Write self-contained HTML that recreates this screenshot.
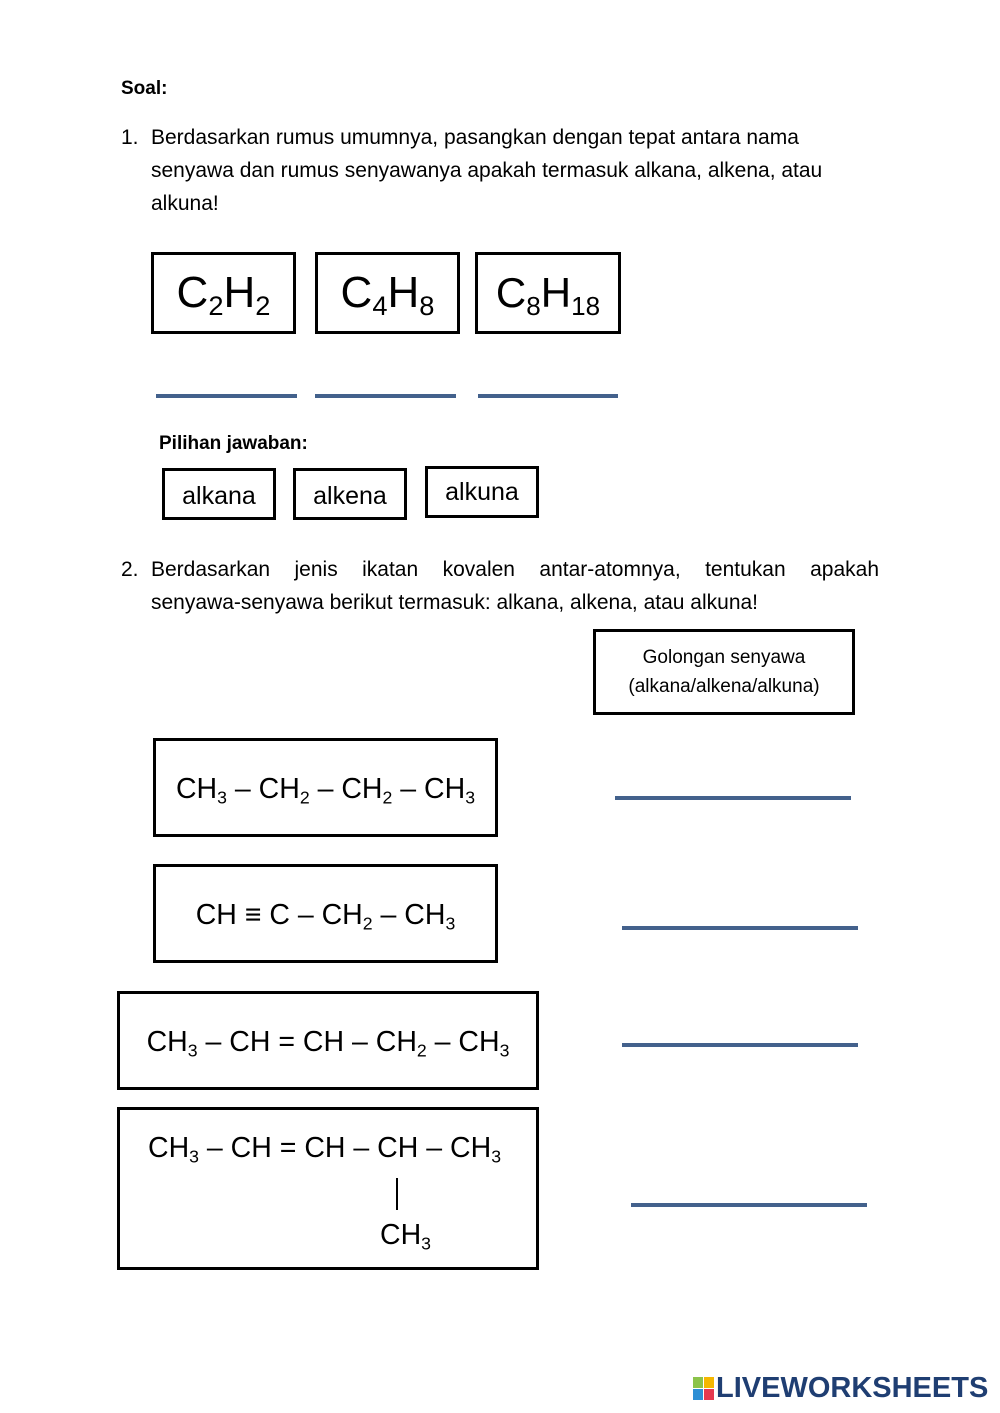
<!DOCTYPE html>
<html><head><meta charset="utf-8"><style>
body{margin:0;background:#fff;}
#p{position:relative;width:1000px;height:1413px;overflow:hidden;font-family:"Liberation Sans",sans-serif;color:#000;}
.a{position:absolute;white-space:nowrap;}
.t{font-size:21px;line-height:33px;}
.box{position:absolute;border:3px solid #000;box-sizing:border-box;display:flex;align-items:center;justify-content:center;white-space:nowrap;}
.ln{position:absolute;height:4px;background:#43618c;}
sub{font-size:62%;vertical-align:-0.3em;line-height:0;}
.f{font-size:28.5px;}
</style></head><body><div id="p">
<div class="a t" style="left:121px;top:72px;font-weight:bold;font-size:19px">Soal:</div>
<div class="a t" style="left:121px;top:121px">1.</div>
<div class="a t" style="left:151px;top:121px">Berdasarkan rumus umumnya, pasangkan dengan tepat antara nama<br>senyawa dan rumus senyawanya apakah termasuk alkana, alkena, atau<br>alkuna!</div>

<div class="box" style="left:151px;top:252px;width:145px;height:82px;font-size:44px"><span>C<sub>2</sub>H<sub>2</sub></span></div>
<div class="box" style="left:315px;top:252px;width:145px;height:82px;font-size:44px"><span>C<sub>4</sub>H<sub>8</sub></span></div>
<div class="box" style="left:475px;top:252px;width:146px;height:82px;font-size:42px"><span>C<sub>8</sub>H<sub>18</sub></span></div>
<div class="ln" style="left:156px;top:394px;width:141px"></div>
<div class="ln" style="left:315px;top:394px;width:141px"></div>
<div class="ln" style="left:478px;top:394px;width:140px"></div>

<div class="a" style="left:159px;top:433px;font-size:19px;font-weight:bold">Pilihan jawaban:</div>
<div class="box" style="left:162px;top:468px;width:114px;height:52px;font-size:25px;padding-top:4px">alkana</div>
<div class="box" style="left:293px;top:468px;width:114px;height:52px;font-size:25px;padding-top:4px">alkena</div>
<div class="box" style="left:425px;top:466px;width:114px;height:52px;font-size:25px">alkuna</div>

<div class="a t" style="left:121px;top:553px">2.</div>
<div class="a t" style="left:151px;top:553px;width:728px;white-space:normal;text-align:justify;text-align-last:justify">Berdasarkan jenis ikatan kovalen antar-atomnya, tentukan apakah</div>
<div class="a t" style="left:151px;top:586px">senyawa-senyawa berikut termasuk: alkana, alkena, atau alkuna!</div>

<div class="box" style="left:593px;top:629px;width:262px;height:86px;font-size:19px;line-height:29px;text-align:center">Golongan senyawa<br>(alkana/alkena/alkuna)</div>

<div class="box f" style="left:153px;top:738px;width:345px;height:99px;padding-top:3px"><span>CH<sub>3</sub> – CH<sub>2</sub> – CH<sub>2</sub> – CH<sub>3</sub></span></div>
<div class="box f" style="left:153px;top:864px;width:345px;height:99px;padding-top:3px"><span>CH ≡ C – CH<sub>2</sub> – CH<sub>3</sub></span></div>
<div class="box f" style="left:117px;top:991px;width:422px;height:99px;padding-top:3px"><span>CH<sub>3</sub> – CH = CH – CH<sub>2</sub> – CH<sub>3</sub></span></div>
<div class="box" style="left:117px;top:1107px;width:422px;height:163px"></div>
<div class="a f" style="left:148px;top:1132px">CH<sub>3</sub> – CH = CH – CH – CH<sub>3</sub></div>
<div class="a" style="left:396px;top:1178px;width:2px;height:32px;background:#000"></div>
<div class="a f" style="left:380px;top:1219px">CH<sub>3</sub></div>

<div class="ln" style="left:615px;top:796px;width:236px"></div>
<div class="ln" style="left:622px;top:926px;width:236px"></div>
<div class="ln" style="left:622px;top:1043px;width:236px"></div>
<div class="ln" style="left:631px;top:1203px;width:236px"></div>

<div class="a" style="left:693px;top:1377px;width:22px;height:24px">
<div class="a" style="left:0;top:0;width:10px;height:11px;background:#8bc34a"></div>
<div class="a" style="left:11px;top:0;width:10px;height:11px;background:#f5b700"></div>
<div class="a" style="left:0;top:12px;width:10px;height:11px;background:#2d8fd5"></div>
<div class="a" style="left:11px;top:12px;width:10px;height:11px;background:#e53950"></div>
</div>
<div class="a" style="left:716px;top:1372px;font-size:29px;font-weight:bold;color:#1f3e72">LIVEWORKSHEETS</div>
</div></body></html>
